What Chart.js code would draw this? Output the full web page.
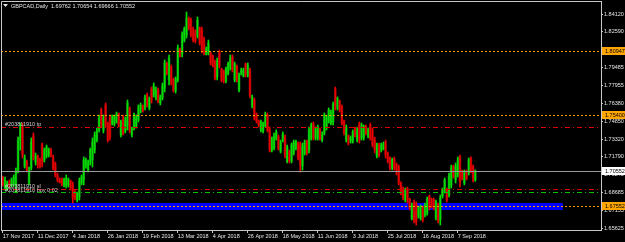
<!DOCTYPE html>
<html>
<head>
<meta charset="utf-8">
<title>GBPCAD Daily</title>
<script src="https://cdn.jsdelivr.net/npm/chart.js@4.4.1/dist/chart.umd.min.js"></script>
<style>
  html, body { margin: 0; padding: 0; background: #000; }
  #wrap { width: 625px; height: 242px; }
</style>
</head>
<body>
<div id="wrap"><canvas id="c" width="625" height="242"></canvas></div>
<script>
// daily OHLC, 17 Nov 2017 .. 20 Sep 2018 (one value per bar)
const opens = [
  1.6995,1.6909,1.6900,1.6961,1.6926,1.6943,1.6935,1.7064,1.7323,1.7436,
  1.7099,1.7133,1.6952,1.7081,1.7358,1.7133,1.7177,1.7151,1.7280,1.7151,
  1.7185,1.7194,1.7237,1.7177,1.7116,1.7021,1.6986,1.6978,1.6935,1.6926,
  1.6935,1.6969,1.6935,1.6874,1.6805,1.6831,1.6952,1.6978,1.7099,1.7064,
  1.7125,1.7151,1.7237,1.7323,1.7410,1.7583,1.7410,1.7626,1.7462,1.7513,
  1.7462,1.7462,1.7479,1.7548,1.7367,1.7522,1.7401,1.7444,1.7591,1.7367,
  1.7427,1.7444,1.7496,1.7565,1.7617,1.7600,1.7712,1.7600,1.7764,1.7712,
  1.7686,1.7755,1.7643,1.7686,1.7773,1.7989,1.7842,1.7954,1.7842,1.7747,
  1.7842,1.8110,1.8066,1.8187,1.8231,1.8377,1.8360,1.8282,1.8257,1.8222,
  1.8291,1.8274,1.8196,1.8066,1.8075,1.8075,1.8049,1.7997,1.7868,1.8084,
  1.7937,1.7920,1.7833,1.7902,1.7945,1.8041,1.7842,1.7963,1.7755,1.7894,
  1.7876,1.7980,1.7885,1.7928,1.7617,1.7669,1.7548,1.7488,1.7410,1.7401,
  1.7453,1.7539,1.7418,1.7237,1.7254,1.7341,1.7349,1.7228,1.7323,1.7349,
  1.7142,1.7220,1.7142,1.7211,1.7254,1.7289,1.7289,1.7099,1.7211,1.7315,
  1.7237,1.7341,1.7462,1.7341,1.7341,1.7418,1.7323,1.7384,1.7427,1.7488,
  1.7470,1.7479,1.7764,1.7600,1.7660,1.7617,1.7488,1.7323,1.7358,1.7315,
  1.7315,1.7427,1.7323,1.7462,1.7341,1.7341,1.7444,1.7358,1.7453,1.7410,
  1.7332,1.7185,1.7289,1.7237,1.7246,1.7306,1.7211,1.7168,1.7081,1.7159,
  1.7107,1.7090,1.6952,1.6900,1.6805,1.6900,1.6814,1.6649,1.6788,1.6770,
  1.6667,1.6649,1.6736,1.6675,1.6693,1.6840,1.6814,1.6805,1.6649,1.6762,
  1.6632,1.6840,1.6883,1.6900,1.6848,1.6935,1.7090,1.6978,1.7021,1.7177,
  1.7056,1.6952,1.7056,1.7038,1.7168,1.7099,1.69762
];
const highs = [
  1.7012,1.7004,1.6969,1.6978,1.6995,1.7021,1.7081,1.7349,1.7470,1.7470,
  1.7194,1.7151,1.7090,1.7341,1.7384,1.7211,1.7194,1.7168,1.7297,1.7254,
  1.7280,1.7254,1.7254,1.7194,1.7133,1.7038,1.6995,1.6995,1.6995,1.7021,
  1.6995,1.6978,1.6961,1.6891,1.6874,1.6995,1.7021,1.7177,1.7168,1.7151,
  1.7254,1.7341,1.7393,1.7427,1.7539,1.7600,1.7539,1.7643,1.7479,1.7539,
  1.7539,1.7539,1.7565,1.7557,1.7496,1.7539,1.7522,1.7669,1.7609,1.7436,
  1.7557,1.7539,1.7626,1.7643,1.7626,1.7712,1.7729,1.7695,1.7781,1.7816,
  1.7781,1.7773,1.7712,1.7816,1.8015,1.7997,1.8058,1.7971,1.7859,1.7868,
  1.8144,1.8118,1.8257,1.8300,1.8429,1.8386,1.8377,1.8300,1.8274,1.8386,
  1.8300,1.8300,1.8213,1.8127,1.8187,1.8084,1.8058,1.8015,1.8032,1.8101,
  1.7945,1.7928,1.7954,1.7997,1.8058,1.8058,1.7997,1.7971,1.7902,1.7945,
  1.7945,1.7989,1.7989,1.7945,1.7712,1.7686,1.7557,1.7496,1.7496,1.7479,
  1.7565,1.7557,1.7436,1.7349,1.7384,1.7410,1.7367,1.7323,1.7393,1.7367,
  1.7280,1.7237,1.7297,1.7323,1.7323,1.7306,1.7306,1.7297,1.7323,1.7323,
  1.7436,1.7470,1.7479,1.7436,1.7453,1.7427,1.7393,1.7557,1.7539,1.7600,
  1.7583,1.7652,1.7781,1.7695,1.7669,1.7626,1.7496,1.7453,1.7367,1.7358,
  1.7410,1.7436,1.7436,1.7479,1.7470,1.7453,1.7453,1.7427,1.7470,1.7427,
  1.7349,1.7297,1.7297,1.7297,1.7306,1.7323,1.7220,1.7177,1.7168,1.7177,
  1.7125,1.7107,1.6961,1.6917,1.6909,1.6917,1.6822,1.6779,1.6805,1.6788,
  1.6753,1.6762,1.6753,1.6779,1.6831,1.6848,1.6822,1.6822,1.6805,1.6779,
  1.6848,1.6909,1.6995,1.6909,1.7038,1.7107,1.7107,1.7125,1.7177,1.7194,
  1.7064,1.7064,1.7064,1.7168,1.7177,1.7107,1.70654
];
const lows = [
  1.6926,1.6891,1.6891,1.6909,1.6917,1.6926,1.6874,1.7038,1.7237,1.7168,
  1.7081,1.7047,1.6935,1.7064,1.7151,1.7107,1.7081,1.7081,1.7090,1.7133,
  1.7168,1.7177,1.7177,1.7064,1.7004,1.6961,1.6952,1.6926,1.6917,1.6909,
  1.6917,1.6891,1.6779,1.6805,1.6788,1.6805,1.6935,1.6935,1.7081,1.7047,
  1.7107,1.7090,1.7211,1.7306,1.7393,1.7436,1.7384,1.7436,1.7306,1.7323,
  1.7453,1.7444,1.7470,1.7436,1.7349,1.7367,1.7384,1.7410,1.7384,1.7349,
  1.7410,1.7427,1.7479,1.7557,1.7565,1.7583,1.7609,1.7583,1.7643,1.7695,
  1.7669,1.7643,1.7626,1.7669,1.7738,1.7885,1.7799,1.7799,1.7738,1.7729,
  1.7825,1.8041,1.8041,1.8170,1.8205,1.8274,1.8213,1.8170,1.8161,1.8205,
  1.8144,1.8075,1.8058,1.8058,1.8058,1.7971,1.7954,1.7842,1.7842,1.7945,
  1.7825,1.7816,1.7816,1.7885,1.7928,1.7911,1.7825,1.7825,1.7738,1.7885,
  1.7868,1.7868,1.7868,1.7686,1.7600,1.7496,1.7470,1.7436,1.7393,1.7384,
  1.7436,1.7393,1.7220,1.7220,1.7237,1.7323,1.7237,1.7211,1.7306,1.7168,
  1.7125,1.7125,1.7125,1.7194,1.7237,1.7151,1.7047,1.7064,1.7194,1.7194,
  1.7211,1.7323,1.7323,1.7323,1.7323,1.7323,1.7306,1.7367,1.7410,1.7470,
  1.7453,1.7453,1.7583,1.7583,1.7565,1.7453,1.7367,1.7306,1.7280,1.7297,
  1.7297,1.7349,1.7306,1.7297,1.7323,1.7323,1.7367,1.7341,1.7323,1.7263,
  1.7211,1.7168,1.7177,1.7220,1.7237,1.7168,1.7125,1.7064,1.7064,1.7064,
  1.7021,1.6935,1.6848,1.6805,1.6788,1.6779,1.6719,1.6632,1.6606,1.6589,
  1.6649,1.6632,1.6615,1.6658,1.6675,1.6719,1.6736,1.6719,1.6632,1.6606,
  1.6589,1.6822,1.6865,1.6788,1.6831,1.6909,1.6995,1.6952,1.7004,1.6917,
  1.6978,1.6935,1.6978,1.7021,1.7038,1.6961,1.69666
];
const closes = [
  1.6943,1.6978,1.6952,1.6926,1.6978,1.7004,1.7047,1.7323,1.7436,1.7194,
  1.7168,1.7064,1.7064,1.7306,1.7177,1.7185,1.7107,1.7099,1.7133,1.7237,
  1.7263,1.7237,1.7194,1.7081,1.7021,1.6978,1.6961,1.6943,1.6978,1.6995,
  1.6978,1.6909,1.6822,1.6822,1.6857,1.6969,1.7004,1.7151,1.7151,1.7125,
  1.7237,1.7306,1.7367,1.7401,1.7513,1.7462,1.7513,1.7462,1.7323,1.7349,
  1.7522,1.7522,1.7548,1.7453,1.7479,1.7384,1.7496,1.7643,1.7410,1.7418,
  1.7539,1.7513,1.7600,1.7626,1.7574,1.7686,1.7626,1.7678,1.7669,1.7790,
  1.7755,1.7660,1.7695,1.7790,1.7989,1.7902,1.8032,1.7816,1.7755,1.7850,
  1.8118,1.8049,1.8231,1.8282,1.8377,1.8291,1.8231,1.8187,1.8179,1.8360,
  1.8161,1.8101,1.8084,1.8110,1.8161,1.7989,1.7971,1.7859,1.8006,1.7963,
  1.7842,1.7833,1.7937,1.7980,1.8032,1.7928,1.7980,1.7842,1.7885,1.7928,
  1.7928,1.7885,1.7971,1.7712,1.7695,1.7522,1.7488,1.7453,1.7479,1.7462,
  1.7548,1.7410,1.7237,1.7323,1.7358,1.7393,1.7254,1.7306,1.7375,1.7194,
  1.7263,1.7142,1.7280,1.7306,1.7306,1.7168,1.7107,1.7272,1.7306,1.7211,
  1.7410,1.7453,1.7341,1.7418,1.7436,1.7341,1.7375,1.7539,1.7522,1.7583,
  1.7565,1.7634,1.7617,1.7678,1.7583,1.7470,1.7384,1.7436,1.7297,1.7341,
  1.7393,1.7367,1.7418,1.7323,1.7453,1.7436,1.7384,1.7410,1.7341,1.7280,
  1.7237,1.7280,1.7194,1.7280,1.7289,1.7194,1.7142,1.7081,1.7151,1.7081,
  1.7038,1.6952,1.6865,1.6822,1.6891,1.6805,1.6736,1.6762,1.6632,1.6615,
  1.6736,1.6745,1.6632,1.6762,1.6814,1.6736,1.6753,1.6736,1.6788,1.6632,
  1.6822,1.6891,1.6978,1.6805,1.7012,1.7081,1.7012,1.7099,1.7151,1.6961,
  1.6995,1.7047,1.6995,1.7151,1.7064,1.6995,1.70552
];

// time axis labels and the bar they sit on
const dateLabels = ['17 Nov 2017','11 Dec 2017','4 Jan 2018','26 Jan 2018','19 Feb 2018','13 Mar 2018',
  '4 Apr 2018','26 Apr 2018','18 May 2018','11 Jun 2018','3 Jul 2018','25 Jul 2018','16 Aug 2018','7 Sep 2018'];
const dateBars = [0,16,32,48,64,80,96,112,128,144,160,176,192,208];

// price scale labels
const priceTicks = [1.84120,1.82590,1.79485,1.77955,1.76380,1.74850,1.73320,1.71790,1.70245,1.68685,1.67155,1.65625];

// chart objects
const orangeLevels = [1.80947, 1.75400, 1.67552];
const bidPrice = 1.70552;
const tpPrice = 1.7433;
const slPrice = 1.6900;
const openPrice = 1.6874;
const zoneTop = 1.6779, zoneBottom = 1.6719, zoneEndBar = 256;
const title = 'GBPCAD,Daily  1.69762 1.70654 1.69666 1.70552';

const FONT = 'Liberation Sans, Arial, sans-serif';
const TXT = '#e6e6e6';
const AXIS = '#c8c8c8';

const idx = opens.map((_, i) => i);
const bull = opens.map((o, i) => closes[i] >= o);

function dash(ctx, chart, price, color, pattern) {
  const a = chart.chartArea, y = Math.round(chart.scales.y.getPixelForValue(price)) + 0.5;
  ctx.strokeStyle = color;
  ctx.lineWidth = 1;
  ctx.setLineDash(pattern);
  ctx.beginPath();
  ctx.moveTo(a.left, y);
  ctx.lineTo(a.right, y);
  ctx.stroke();
  ctx.setLineDash([]);
  return y;
}

const overlay = {
  id: 'overlay',
  beforeDatasetsDraw(chart) {
    const { ctx, chartArea: a, scales: { x, y } } = chart;
    const y1 = Math.round(y.getPixelForValue(zoneTop));
    const y2 = Math.round(y.getPixelForValue(zoneBottom));
    ctx.save();
    ctx.fillStyle = '#0000ff';
    ctx.fillRect(a.left, y1, x.getPixelForValue(zoneEndBar) - a.left, y2 - y1);
    ctx.restore();
  },
  afterDatasetsDraw(chart) {
    const { ctx, chartArea: a } = chart;
    ctx.save();
    orangeLevels.forEach(p => dash(ctx, chart, p, '#ff9900', [2, 2]));
    dash(ctx, chart, bidPrice, '#9a9a9a', []);
    const ytp = dash(ctx, chart, tpPrice, '#e00000', [5, 3, 1, 3]);
    const ysl = dash(ctx, chart, slPrice, '#e00000', [5, 3, 1, 3]);
    const yop = dash(ctx, chart, openPrice, '#00c000', [5, 3, 1, 3]);
    ctx.fillStyle = '#d0d0d0';
    ctx.font = '5.5px ' + FONT;
    ctx.textBaseline = 'alphabetic';
    ctx.fillText('#203811910 tp', a.left + 4, ytp - 1.5);
    ctx.fillText('#203811910 sl', a.left + 4, ysl - 2);
    ctx.fillText('#203811910 buy 0.02', a.left + 4, yop - 1);
    ctx.restore();
  },
  afterDraw(chart) {
    const { ctx, chartArea: a, scales: { y } } = chart;
    ctx.save();
    // frame
    ctx.strokeStyle = AXIS;
    ctx.lineWidth = 1;
    ctx.beginPath();
    ctx.moveTo(a.left + 0.5, a.bottom);
    ctx.lineTo(a.left + 0.5, a.top + 0.5);
    ctx.lineTo(a.right, a.top + 0.5);
    ctx.stroke();
    // price tags on the scale
    const tags = orangeLevels.map(p => [p, '#ffa500']).concat([[bidPrice, '#ffffff']]);
    ctx.font = '5.5px ' + FONT;
    ctx.textBaseline = 'middle';
    tags.forEach(([p, bg]) => {
      const yy = Math.round(y.getPixelForValue(p));
      ctx.fillStyle = bg;
      ctx.fillRect(a.right + 1, yy - 4, 23, 8);
      ctx.fillStyle = '#000';
      ctx.fillText(p.toFixed(5), a.right + 4, yy + 0.5);
    });
    // title
    ctx.fillStyle = TXT;
    ctx.beginPath();
    ctx.moveTo(3, 4); ctx.lineTo(8, 4); ctx.lineTo(5.5, 7); ctx.closePath();
    ctx.fill();
    ctx.textBaseline = 'middle';
    ctx.fillText(title, 11, 6);
    ctx.restore();
  }
};

new Chart(document.getElementById('c'), {
  type: 'bar',
  data: {
    datasets: [
      {
        label: 'range',
        data: idx.map(i => ({ x: i, y: [lows[i], highs[i]] })),
        backgroundColor: bull.map(b => b ? '#00e000' : '#e80000'),
        barThickness: 1,
        grouped: false,
        order: 0
      },
      {
        label: 'body',
        data: idx.map(i => ({ x: i, y: [opens[i], closes[i]] })),
        backgroundColor: bull.map(b => b ? '#1b6b1b' : '#7a0a0a'),
        barThickness: 2,
        minBarLength: 1,
        grouped: false,
        order: 1
      }
    ]
  },
  options: {
    responsive: false,
    animation: false,
    devicePixelRatio: 1,
    layout: { padding: { left: 1, top: 1, right: 0, bottom: 0 } },
    plugins: { legend: { display: false }, tooltip: { enabled: false } },
    scales: {
      x: {
        type: 'linear',
        bounds: 'data',
        offset: false,
        min: -0.82,
        max: 273.47,
        afterBuildTicks: s => { s.ticks = dateBars.map(v => ({ value: v })); },
        afterFit: s => { s.height = 12; s.paddingLeft = 0; s.paddingRight = 0; },
        ticks: {
          color: TXT, font: { size: 5.5, family: FONT }, padding: 0,
          align: 'start', maxRotation: 0, autoSkip: false,
          callback: v => dateLabels[dateBars.indexOf(v)]
        },
        grid: { drawOnChartArea: false, offset: false, tickLength: 3, color: AXIS },
        border: { color: AXIS }
      },
      y: {
        position: 'right',
        bounds: 'data',
        min: 1.65458,
        max: 1.85244,
        afterBuildTicks: s => { s.ticks = priceTicks.map(v => ({ value: v })); },
        afterFit: s => { s.width = 24; s.paddingTop = 0; s.paddingBottom = 0; },
        ticks: {
          color: TXT, font: { size: 5.5, family: FONT }, padding: 1, autoSkip: false,
          callback: v => v.toFixed(5)
        },
        grid: { drawOnChartArea: false, tickLength: 2, color: AXIS },
        border: { color: AXIS }
      }
    }
  },
  plugins: [overlay]
});
</script>
</body>
</html>
